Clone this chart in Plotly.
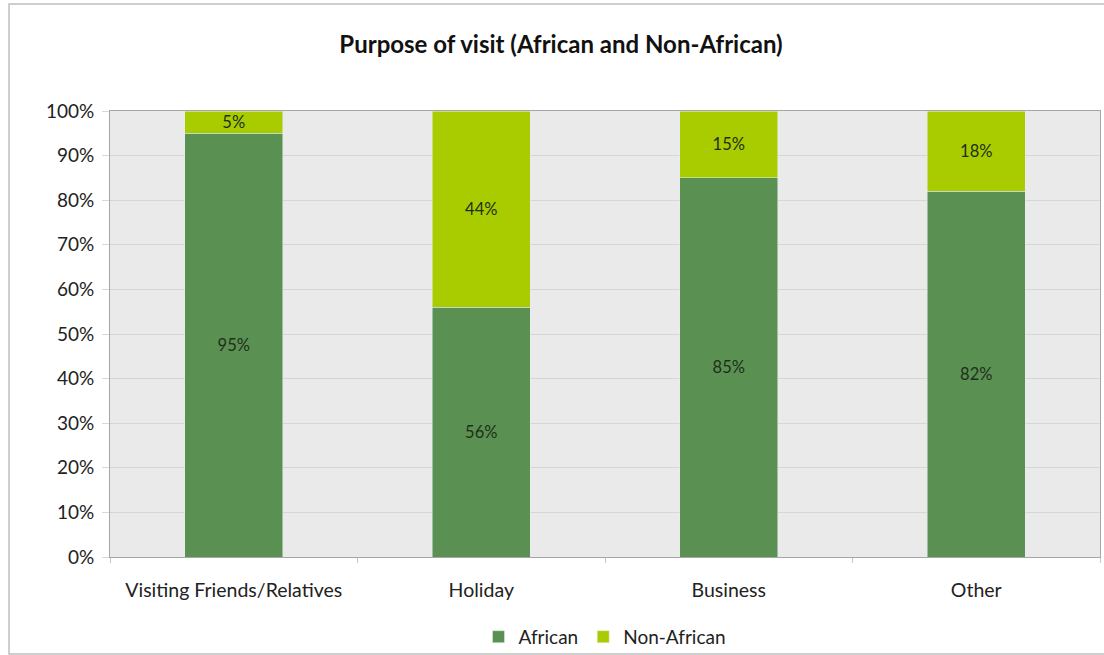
import plotly.graph_objects as go

categories = ["Visiting Friends/Relatives", "Holiday", "Business", "Other"]
african = [95, 56, 85, 82]
non_african = [5, 44, 15, 18]
y_ticks = [0, 10, 20, 30, 40, 50, 60, 70, 80, 90, 100]
y_tick_labels = [f"{v}%" for v in y_ticks]

FONT = "Lato, 'Open Sans', sans-serif"
DARK = "#5a9152"
LIGHT = "#a8cc00"
LABEL_COLOR = "#1f2f1a"

fig = go.Figure()
fig.add_trace(go.Bar(
    x=categories, y=african, name="African", marker_color=DARK,
    text=[f"{v}%" for v in african], textposition="inside",
    insidetextanchor="middle", textangle=0, constraintext="none",
    textfont=dict(family=FONT, size=16.5, color=LABEL_COLOR),
))
fig.add_trace(go.Bar(
    x=categories, y=non_african, name="Non-African", marker_color=LIGHT,
    text=[f"{v}%" for v in non_african], textposition="inside",
    insidetextanchor="middle", textangle=0, constraintext="none",
    textfont=dict(family=FONT, size=16.5, color=LABEL_COLOR),
))

fig.update_layout(
    width=1104, height=655,
    barmode="stack", bargap=0.604,
    paper_bgcolor="white", plot_bgcolor="#eaeaea",
    margin=dict(l=110, r=4, t=111, b=98, autoexpand=False),
    font=dict(family=FONT, size=19, color="#222"),
    title=dict(text="<b>Purpose of visit (African and Non-African)</b>",
               x=561/1104, xanchor="center", xref="container",
               y=1-45/655, yanchor="middle", yref="container",
               font=dict(family=FONT, size=24, color="#111")),
    legend=dict(orientation="h", x=0.5, xanchor="center", y=-0.179, yanchor="middle",
                font=dict(family=FONT, size=19, color="#222"), traceorder="normal",
                itemwidth=30, bgcolor="rgba(0,0,0,0)"),
    showlegend=True,
    shapes=[dict(type="rect", xref="paper", yref="paper",
                 x0=-0.102, x1=1.03, y0=-0.2175, y1=1.2399,
                 line=dict(color="#bfbfbf", width=1.5), layer="below")],
)
fig.update_xaxes(showline=True, linecolor="#a6a6a6", linewidth=1, mirror=True,
                 automargin=False, ticklabelstandoff=16,
                 ticks="outside", tickson="boundaries", ticklen=5, tickcolor="#c8c8c8",
                 tickfont=dict(family=FONT, size=19.5, color="#222"), showgrid=False)
fig.update_yaxes(range=[0, 100], tickvals=y_ticks, ticktext=y_tick_labels,
                 showline=True, linecolor="#a6a6a6", linewidth=1, mirror=True,
                 automargin=False, ticklabelstandoff=4,
                 ticks="outside", ticklen=7, tickcolor="#d9d9d9",
                 gridcolor="#d6d6d6", gridwidth=1, zeroline=False,
                 tickfont=dict(family=FONT, size=19, color="#222"))

fig.write_html("out.html", config={"displayModeBar": False},
               post_script="document.body.style.margin='0';")
